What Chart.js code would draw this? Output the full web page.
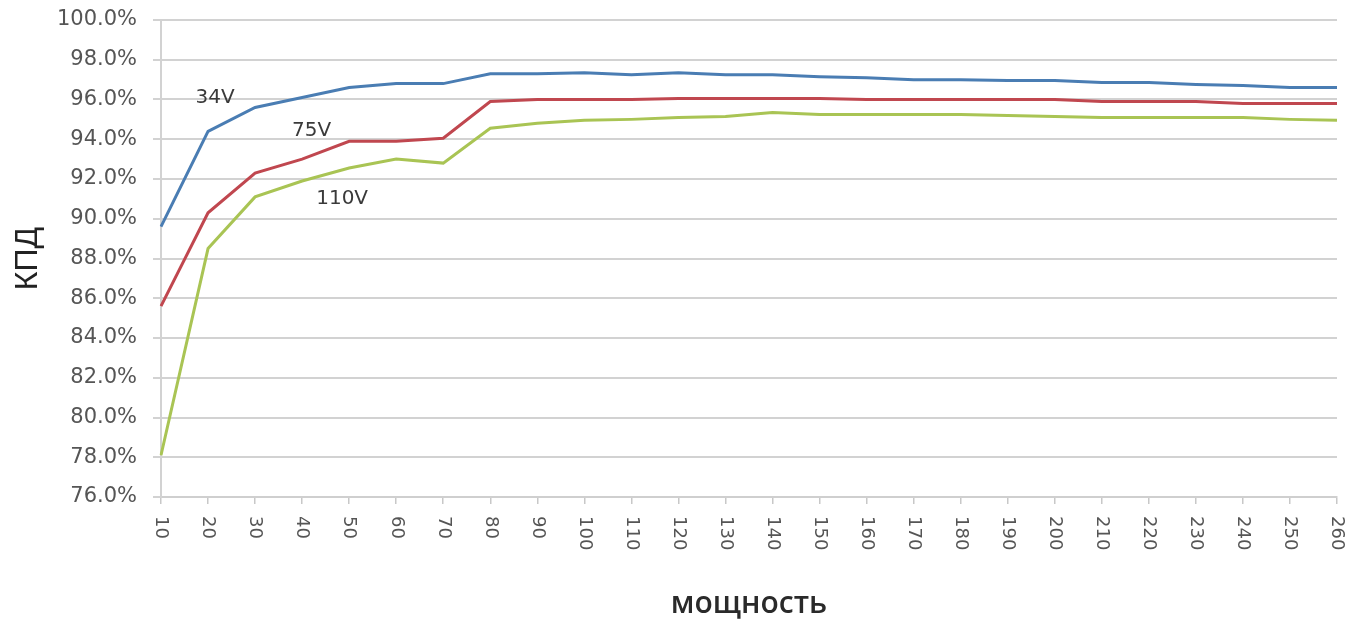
<!DOCTYPE html>
<html>
<head>
<meta charset="utf-8">
<script src="https://cdn.jsdelivr.net/npm/chart.js@4/dist/chart.umd.min.js"></script>
<style>
  html, body { margin: 0; padding: 0; background: #ffffff; }
  #wrap { width: 1357px; height: 624px; position: relative; }
</style>
</head>
<body>
<div id="wrap"><canvas id="c"></canvas></div>
<script>
// ---- data ----
const categories = ['10','20','30','40','50','60','70','80','90','100','110','120','130','140','150','160','170','180','190','200','210','220','230','240','250','260'];
const v34 = [89.6, 94.4, 95.6, 96.1, 96.6, 96.8, 96.8, 97.3, 97.3, 97.35, 97.25, 97.35, 97.25, 97.25, 97.15, 97.1, 97.0, 97.0, 96.95, 96.95, 96.85, 96.85, 96.75, 96.7, 96.6, 96.6];
const v75 = [85.6, 90.3, 92.3, 93.0, 93.9, 93.9, 94.05, 95.9, 96.0, 96.0, 96.0, 96.05, 96.05, 96.05, 96.05, 96.0, 96.0, 96.0, 96.0, 96.0, 95.9, 95.9, 95.9, 95.8, 95.8, 95.8];
const v110 = [78.1, 88.5, 91.1, 91.9, 92.55, 93.0, 92.8, 94.55, 94.8, 94.95, 95.0, 95.1, 95.15, 95.35, 95.25, 95.25, 95.25, 95.25, 95.2, 95.15, 95.1, 95.1, 95.1, 95.1, 95.0, 94.95];
const seriesNames = ['34V', '75V', '110V'];
const labelIndex = [1.15, 3.2, 3.85];
const labelValue = [96.1, 94.45, 91.0];
const yMin = 76, yMax = 100, yStep = 2;

const colors = ['#4a7db3', '#c0474f', '#a9c454'];

const xLabelsPlugin = {
  id: 'xLabels',
  afterDraw(chart) {
    const ctx = chart.ctx;
    const xs = chart.scales.x;
    ctx.save();
    ctx.font = '18px "DejaVu Sans"';
    ctx.fillStyle = '#555';
    ctx.textAlign = 'left';
    ctx.textBaseline = 'middle';
    categories.forEach((lab, i) => {
      const x = xs.getPixelForTick(i);
      ctx.save();
      ctx.translate(x, xs.top + 19);
      ctx.rotate(Math.PI / 2);
      ctx.fillText(lab, 0, 0);
      ctx.restore();
    });
    // series name annotations
    const ys = chart.scales.y;
    ctx.font = '20px "DejaVu Sans"';
    ctx.fillStyle = '#3a3a3a';
    ctx.textAlign = 'center';
    ctx.textBaseline = 'middle';
    seriesNames.forEach((n, i) => {
      ctx.fillText(n, xs.getPixelForValue(labelIndex[i]), ys.getPixelForValue(labelValue[i]));
    });
    ctx.restore();
  }
};

new Chart(document.getElementById('c'), {
  type: 'line',
  data: {
    labels: categories,
    datasets: [
      { label: seriesNames[0], data: v34, borderColor: colors[0] },
      { label: seriesNames[1], data: v75, borderColor: colors[1] },
      { label: seriesNames[2], data: v110, borderColor: colors[2] }
    ].map(d => Object.assign(d, { borderWidth: 3, pointRadius: 0, tension: 0, fill: false }))
  },
  options: {
    responsive: true,
    maintainAspectRatio: false,
    animation: false,
    layout: { padding: { top: 20, right: 20, bottom: 0, left: 0 } },
    plugins: { legend: { display: false }, tooltip: { enabled: false } },
    scales: {
      x: {
        type: 'category',
        offset: false,
        grid: { drawOnChartArea: false, drawTicks: true, tickLength: 7, color: '#c8c8c8', lineWidth: 1.5 },
        border: { display: true, color: '#cfcfcf', width: 2 },
        ticks: { display: false },
        title: {
          display: true, text: 'мощность', color: '#2a2a2a',
          font: { family: '"Open Sans"', size: 30, weight: '600' },
          padding: { top: 0, bottom: 2 }
        },
        afterFit(s) { s.height = 127; }
      },
      y: {
        min: yMin, max: yMax,
        ticks: {
          stepSize: yStep, color: '#555', padding: 16,
          font: { family: '"DejaVu Sans"', size: 21 },
          callback: v => v.toFixed(1) + '%'
        },
        grid: { color: '#d2d2d2', lineWidth: 2, drawTicks: true, tickLength: 8 },
        border: { display: true, color: '#d2d2d2', width: 2 },
        title: {
          display: true, text: 'КПД', color: '#222',
          font: { family: '"Liberation Sans"', size: 32 },
          padding: { top: 9, bottom: 0 }
        },
        afterFit(s) { s.width = 161; s.paddingTop = 0; s.paddingBottom = 0; }
      }
    }
  },
  plugins: [xLabelsPlugin]
});
</script>
</body>
</html>
